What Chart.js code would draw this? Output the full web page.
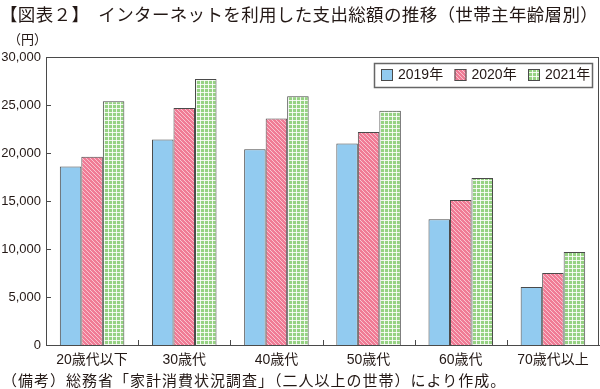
<!DOCTYPE html>
<html>
<head>
<meta charset="utf-8">
<script src="https://cdn.jsdelivr.net/npm/chart.js@4/dist/chart.umd.min.js"></script>
<style>
  html, body { margin: 0; padding: 0; background: #fff; }
  #wrap { position: relative; width: 600px; height: 389px; overflow: hidden; }
  #grafico { position: absolute; left: 0; top: 0; }
  .txt { position: absolute; white-space: nowrap; color: #231815; font-family: "Noto Sans CJK JP", sans-serif; }
  #titulo { left: 0; top: 3px; font-size: 17.5px; line-height: 22px; letter-spacing: 0.35px; }
  #unidad { left: 8px; top: 31px; font-size: 13px; line-height: 16px; }
  #nota { left: 2px; top: 370px; font-size: 15px; line-height: 19px; letter-spacing: 1px; }
</style>
</head>
<body>
<div id="wrap">
  <canvas id="grafico" width="600" height="389"></canvas>
  <div class="txt" id="titulo">【図表２】　インターネットを利用した支出総額の推移（世帯主年齢層別）</div>
  <div class="txt" id="unidad">（円）</div>
  <div class="txt" id="nota">（備考）総務省「家計消費状況調査」（二人以上の世帯）により作成。</div>
</div>
<script>
// datos
const categorias = ['20歳代以下', '30歳代', '40歳代', '50歳代', '60歳代', '70歳代以上'];
const series = ['2019年', '2020年', '2021年'];
const datos2019 = [18600, 21400, 20400, 21000, 13100, 6050];
const datos2020 = [19600, 24700, 23600, 22200, 15100, 7500];
const datos2021 = [25400, 27700, 25900, 24400, 17400, 9700];
const ticksY = [0, 5000, 10000, 15000, 20000, 25000, 30000];

const fuenteNum = '"Liberation Sans", "Noto Sans CJK JP", sans-serif';
const colorLinea = '#4a4a4a';
const colorTexto = '#231815';

// Patrón rayado rosa
function patronRayas() {
    const c = document.createElement('canvas');
    c.width = 4; c.height = 4;
    const g = c.getContext('2d');
    g.fillStyle = '#f07b95';
    g.fillRect(0, 0, 4, 4);
    g.strokeStyle = 'rgba(255,255,255,0.8)';
    g.lineWidth = 0.7;
    g.beginPath();
    g.moveTo(-1, -1); g.lineTo(5, 5);
    g.moveTo(-1, 3); g.lineTo(1, 5);
    g.moveTo(3, -1); g.lineTo(5, 1);
    g.stroke();
    return c.getContext('2d').createPattern(c, 'repeat');
}

// Patrón cuadriculado verde
function patronCuadros() {
    const c = document.createElement('canvas');
    c.width = 4; c.height = 4;
    const g = c.getContext('2d');
    g.fillStyle = '#96d283';
    g.fillRect(0, 0, 4, 4);
    g.fillStyle = 'rgba(255,255,255,0.85)';
    g.fillRect(0, 0, 4, 1);
    g.fillRect(0, 0, 1, 4);
    return c.getContext('2d').createPattern(c, 'repeat');
}

// Marco, marcas de los ejes y leyenda dentro del área
const marcoPlugin = {
    id: 'marco',
    afterDatasetsDraw(chart) {
        const { ctx, chartArea: a, scales } = chart;
        ctx.save();
        ctx.strokeStyle = colorLinea;
        ctx.lineWidth = 1;
        ctx.strokeRect(a.left + 0.5, a.top + 0.5, a.right - a.left - 1, a.bottom - a.top);
        ctx.beginPath();
        ticksY.forEach(v => {
            const y = Math.round(scales.y.getPixelForValue(v)) + 0.5;
            ctx.moveTo(a.left, y); ctx.lineTo(a.left + 5, y);
        });
        for (let i = 1; i < categorias.length; i++) {
            const x = Math.round((scales.x.getPixelForValue(i - 1) + scales.x.getPixelForValue(i)) / 2) + 0.5;
            ctx.moveTo(x, a.bottom); ctx.lineTo(x, a.bottom - 5);
        }
        ctx.stroke();

        // leyenda
        const lx = a.right - 225, ly = a.top + 6, lw = 218, lh = 24;
        ctx.strokeStyle = '#666';
        ctx.lineWidth = 1.5;
        ctx.strokeRect(lx + 0.5, ly + 0.5, lw, lh);
        ctx.font = '14px ' + fuenteNum;
        ctx.textBaseline = 'middle';
        ctx.textAlign = 'left';
        chart.data.datasets.forEach((ds, i) => {
            const bx = lx + 7 + i * 73.5;
            const by = ly + 6;
            ctx.fillStyle = ds.backgroundColor;
            ctx.fillRect(bx, by, 12, 12);
            ctx.strokeStyle = colorLinea;
            ctx.lineWidth = 1;
            ctx.strokeRect(bx + 0.5, by + 0.5, 11, 11);
            ctx.fillStyle = colorTexto;
            ctx.fillText(ds.label, bx + 17, by + 6.5);
        });
        ctx.restore();
    }
};

new Chart(document.getElementById('grafico').getContext('2d'), {
    type: 'bar',
    data: {
        labels: categorias,
        datasets: [
            { label: series[0], data: datos2019, backgroundColor: '#92cbf0', borderColor: colorLinea, borderWidth: 1 },
            { label: series[1], data: datos2020, backgroundColor: patronRayas(), borderColor: colorLinea, borderWidth: 1 },
            { label: series[2], data: datos2021, backgroundColor: patronCuadros(), borderColor: colorLinea, borderWidth: 1 }
        ]
    },
    options: {
        responsive: false,
        animation: false,
        layout: { padding: { top: 57, right: 1, bottom: 0, left: 0 } },
        datasets: { bar: { categoryPercentage: 0.7, barPercentage: 1.0 } },
        plugins: {
            title: { display: false },
            tooltip: { enabled: false },
            legend: { display: false }
        },
        scales: {
            x: {
                grid: { display: false, drawTicks: false },
                border: { display: true, color: colorLinea, width: 1 },
                ticks: { color: colorTexto, padding: 7, font: { family: fuenteNum, size: 14 } },
                afterFit: s => { s.height = 44; }
            },
            y: {
                min: 0,
                max: 30000,
                grid: { display: false, drawTicks: false },
                border: { display: true, color: colorLinea, width: 1 },
                afterBuildTicks: s => { s.ticks = ticksY.map(v => ({ value: v })); },
                afterFit: s => { s.width = 46; },
                ticks: {
                    color: colorTexto,
                    padding: 5,
                    font: { family: fuenteNum, size: 13 },
                    callback: v => v.toLocaleString('en-US')
                }
            }
        }
    },
    plugins: [marcoPlugin]
});
</script>
</body>
</html>
